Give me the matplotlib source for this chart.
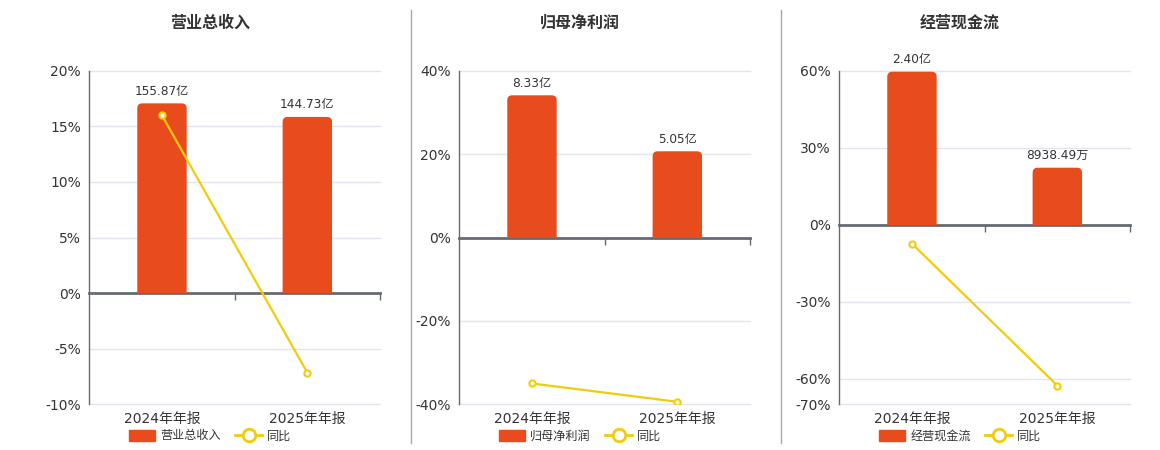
import matplotlib.pyplot as plt
from matplotlib.lines import Line2D
from matplotlib.patches import Patch, FancyBboxPatch, Rectangle
from matplotlib.ticker import FuncFormatter

plt.rcParams['font.family'] = ['DejaVu Sans', 'Noto Sans CJK SC']

periods = ['2024年年报', '2025年年报']

titles = ['营业总收入', '归母净利润', '经营现金流']
bar_values = [[155.87, 144.73], [8.33, 5.05], [2.40, 0.893849]]
bar_labels = [['155.87亿', '144.73亿'], ['8.33亿', '5.05亿'], ['2.40亿', '8938.49万']]
yoy = [[15.98, -7.15], [-35.0, -39.4], [-7.4, -62.7]]

yticks = [[-10, -5, 0, 5, 10, 15, 20],
          [-40, -20, 0, 20, 40],
          [-70, -60, -30, 0, 30, 60]]
# top of hidden bar axis, chosen so bars line up with the reference
bar_tops = [182.7, 9.77, 2.416]

BAR = '#E84B1C'
LINE = '#F2CB0C'
GRID = '#E1E5EE'
AXIS = '#666A73'
TEXT = '#333333'

fig = plt.figure(figsize=(11.6, 4.5), dpi=100)

lefts = [89.3, 459.3, 839.3]
centers = [210, 580, 960]
W, H = 1160, 450
AX_W, AX_H = 290.7, 404.3 - 70.7
BW = 0.34
RAD_PX = 5

for i in range(3):
    ax = fig.add_axes([lefts[i] / W, 1 - 404.3 / H, AX_W / W, AX_H / H])
    lo, hi = yticks[i][0], yticks[i][-1]
    ax.set_ylim(lo, hi)
    ax.set_xlim(-0.5, 1.5)
    ax.set_yticks(yticks[i])
    ax.yaxis.set_major_formatter(FuncFormatter(lambda v, p: '%d%%' % v))
    ax.tick_params(axis='y', length=0, pad=6, labelsize=10, labelcolor=TEXT)
    for t in yticks[i]:
        if t != 0:
            ax.axhline(t, color=GRID, linewidth=1, zorder=0, clip_on=False)
    for s in ['top', 'right']:
        ax.spines[s].set_visible(False)
    ax.spines['left'].set_color(AXIS)
    ax.spines['left'].set_linewidth(1)
    ax.spines['bottom'].set_position(('data', 0))
    ax.spines['bottom'].set_color(AXIS)
    ax.spines['bottom'].set_linewidth(2)
    ax.spines['bottom'].set_zorder(4)
    ax.set_xticks([0.5, 1.5])
    ax.set_xticklabels([])
    ax.tick_params(axis='x', length=5, width=1, color=AXIS)
    for j, p in enumerate(periods):
        ax.text(j, -0.045, p, transform=ax.get_xaxis_transform(),
                ha='center', va='center', fontsize=10, color=TEXT)

    # bars on hidden twin axis, rounded tops (bottom corners clipped away at zero)
    bx = ax.twinx()
    top = bar_tops[i]
    blo = lo / hi * top
    bx.set_ylim(blo, top)
    bx.set_xlim(-0.5, 1.5)
    bx.axis('off')
    xpp = 2.0 / AX_W
    ypp = (top - blo) / AX_H
    clip = Rectangle((-0.5, 0), 2, top, transform=bx.transData)
    for j, v in enumerate(bar_values[i]):
        ext = RAD_PX * ypp
        p = FancyBboxPatch((j - BW / 2, -ext), BW, v + ext,
                           boxstyle='round,pad=0,rounding_size=%f' % (RAD_PX * xpp),
                           mutation_aspect=ypp / xpp, facecolor=BAR,
                           edgecolor='none', zorder=2)
        bx.add_patch(p)
        p.set_clip_path(clip)
        bx.annotate(bar_labels[i][j], (j, v), xytext=(0, 4), textcoords='offset points',
                    ha='center', va='bottom', fontsize=8.7, color=TEXT)

    # yoy line on top
    lx = ax.twinx()
    lx.set_ylim(lo, hi)
    lx.set_xlim(-0.5, 1.5)
    lx.axis('off')
    lx.plot(range(2), yoy[i], color=LINE, linewidth=1.6, marker='o', markersize=4.5,
            markerfacecolor='white', markeredgecolor=LINE, markeredgewidth=1.5, zorder=5)

    fig.text(centers[i] / W, 1 - 23 / H, titles[i], ha='center', va='center',
             fontsize=11.5, fontweight='bold', color=TEXT)

    handles = [Patch(facecolor=BAR, edgecolor=BAR),
               Line2D([], [], color=LINE, linewidth=2, marker='o', markersize=9,
                      markerfacecolor='white', markeredgecolor=LINE, markeredgewidth=2)]
    fig.legend(handles, [titles[i], '同比'], loc='center', ncol=2,
               bbox_to_anchor=(centers[i] / W, 1 - 436 / H), frameon=False,
               fontsize=8.7, labelcolor=TEXT, handlelength=2.2, handleheight=1.1,
               handletextpad=0.4, columnspacing=1.2)

for x in [410.7, 780.5]:
    fig.add_artist(Line2D([x / W, x / W], [1 - 443 / H, 1 - 10 / H], color='#A8A8A8', linewidth=1))

fig.savefig('out.png', dpi=100)
